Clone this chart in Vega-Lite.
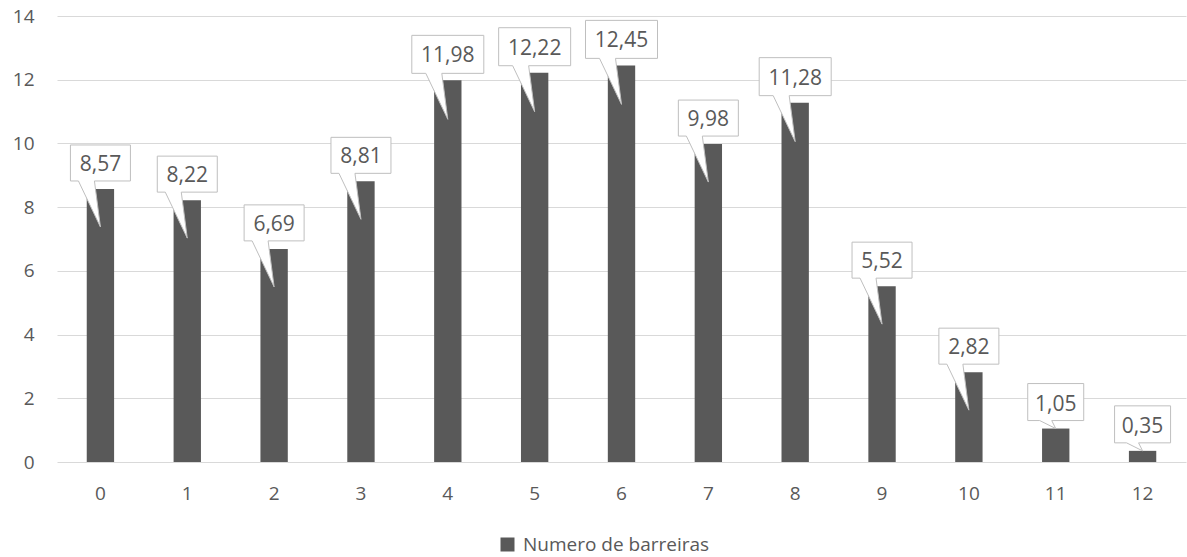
{
  "$schema": "https://vega.github.io/schema/vega-lite/v6.json",
  "width": 1129,
  "height": 446,
  "autosize": "none",
  "padding": {"left": 57, "top": 16, "right": 1, "bottom": 95},
  "background": "white",
  "config": {
    "font": "Open Sans",
    "view": {"stroke": null},
    "locale": {"number": {"decimal": ",", "thousands": ".", "grouping": [3], "currency": ["", " €"]}}
  },
  "data": {
    "values": [
      {"n": 0, "v": 8.57},
      {"n": 1, "v": 8.22},
      {"n": 2, "v": 6.69},
      {"n": 3, "v": 8.81},
      {"n": 4, "v": 11.98},
      {"n": 5, "v": 12.22},
      {"n": 6, "v": 12.45},
      {"n": 7, "v": 9.98},
      {"n": 8, "v": 11.28},
      {"n": 9, "v": 5.52},
      {"n": 10, "v": 2.82},
      {"n": 11, "v": 1.05},
      {"n": 12, "v": 0.35}
    ]
  },
  "encoding": {
    "x": {
      "field": "n",
      "type": "ordinal",
      "scale": {"paddingInner": 0.685, "paddingOuter": 0.3425},
      "axis": {"title": null, "labelAngle": 0, "domain": false, "ticks": false, "grid": false, "labelPadding": 22, "labelFontSize": 19, "labelColor": "#595959", "labelFont": "Open Sans"}
    },
    "y": {
      "field": "v",
      "type": "quantitative",
      "scale": {"domain": [0, 14]},
      "axis": {"title": null, "values": [0, 2, 4, 6, 8, 10, 12, 14], "domain": false, "ticks": false, "labelPadding": 23, "labelFontSize": 19, "labelColor": "#595959", "labelFont": "Open Sans", "gridColor": "#d9d9d9", "gridWidth": 1}
    }
  },
  "layer": [
    {
      "mark": {"type": "bar", "color": "#595959"},
      "encoding": {
        "color": {
          "datum": "Numero de barreiras",
          "type": "nominal",
          "scale": {"range": ["#595959"]},
          "legend": {"title": null, "orient": "none", "legendX": 441, "legendY": 519, "symbolType": "square", "symbolSize": 196, "symbolStrokeWidth": 0, "labelFontSize": 19, "labelColor": "#595959", "labelFont": "Open Sans", "labelOffset": 6, "labelLimit": 0}
        }
      }
    },
    {
      "transform": [{"filter": "datum.v >= 2 && datum.v < 10"}],
      "mark": {"type": "point", "shape": "M -30 -44 L 30 -44 L 30 -8 L -6 -8 L 0 38 L -22 -8 L -30 -8 Z", "size": 4, "filled": true, "fill": "white", "stroke": "#bfbfbf", "strokeWidth": 1, "opacity": 1}
    },
    {
      "transform": [{"filter": "datum.v >= 10"}],
      "mark": {"type": "point", "shape": "M -36 -45 L 36 -45 L 36 -7 L -6 -7 L 0 39 L -22 -7 L -36 -7 Z", "size": 4, "filled": true, "fill": "white", "stroke": "#bfbfbf", "strokeWidth": 1, "opacity": 1}
    },
    {
      "transform": [{"filter": "datum.v < 2"}],
      "mark": {"type": "point", "shape": "M -28 -45 L 28 -45 L 28 -8 L -4 -8 L 0 0 L -16 -8 L -28 -8 Z", "size": 4, "filled": true, "fill": "white", "stroke": "#bfbfbf", "strokeWidth": 1, "opacity": 1}
    },
    {
      "mark": {"type": "text", "dy": -18, "baseline": "alphabetic", "fontSize": 21, "color": "#595959", "font": "Open Sans"},
      "encoding": {"text": {"field": "v", "type": "quantitative", "format": ".2f"}}
    }
  ]
}
